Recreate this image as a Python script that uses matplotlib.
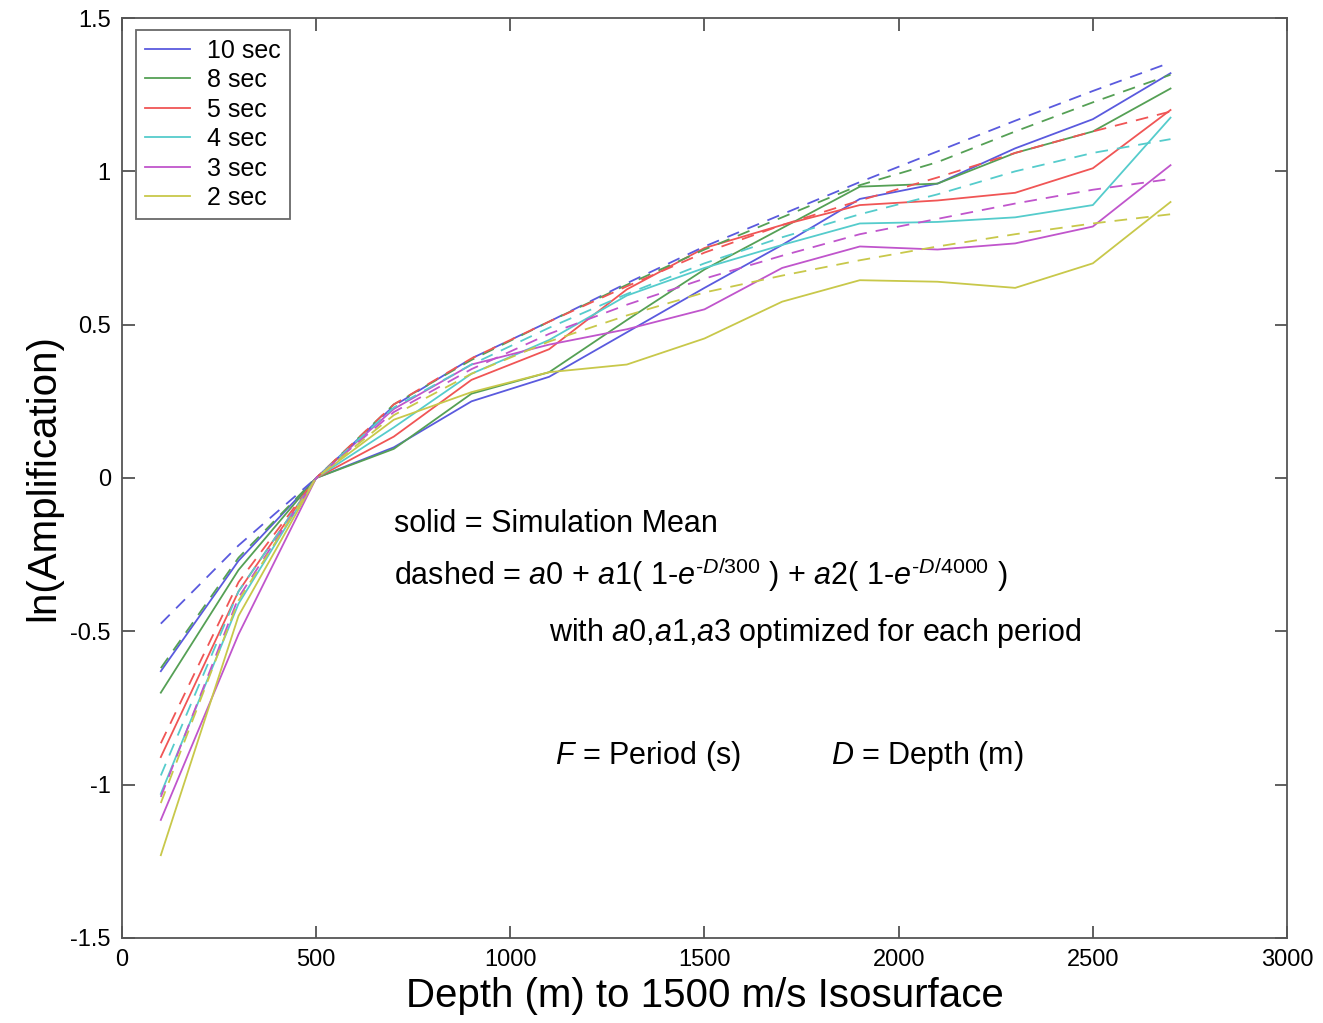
import numpy as np
import matplotlib
matplotlib.use("Agg")
import matplotlib.pyplot as plt

plt.rcParams['font.family'] = ['Liberation Sans', 'DejaVu Sans']
plt.rcParams['mathtext.fontset'] = 'custom'
plt.rcParams['mathtext.rm'] = 'Liberation Sans'
plt.rcParams['mathtext.it'] = 'Liberation Sans:italic'

# depth (m) to the 1500 m/s isosurface
depth = [100, 300, 500, 700, 900, 1100, 1300, 1500, 1700, 1900, 2100, 2300, 2500, 2700]

periods = ['10 sec', '8 sec', '5 sec', '4 sec', '3 sec', '2 sec']
colors = ['#5a5ade', '#55a055', '#f05555', '#55cccc', '#c055cc', '#c8c84a']

# solid = simulation mean
sim_10 = [-0.63, -0.27, 0, 0.10, 0.25, 0.33, 0.475, 0.62, 0.76, 0.91, 0.96, 1.075, 1.17, 1.32]
sim_8 = [-0.70, -0.30, 0, 0.095, 0.275, 0.345, 0.515, 0.68, 0.815, 0.95, 0.96, 1.06, 1.13, 1.27]
sim_5 = [-0.91, -0.37, 0, 0.135, 0.32, 0.42, 0.615, 0.75, 0.825, 0.89, 0.905, 0.93, 1.01, 1.20]
sim_4 = [-1.03, -0.41, 0, 0.165, 0.34, 0.45, 0.595, 0.685, 0.76, 0.83, 0.835, 0.85, 0.89, 1.175]
sim_3 = [-1.115, -0.51, 0, 0.225, 0.37, 0.435, 0.485, 0.55, 0.685, 0.755, 0.745, 0.765, 0.82, 1.02]
sim_2 = [-1.23, -0.45, 0, 0.19, 0.28, 0.345, 0.37, 0.455, 0.575, 0.645, 0.64, 0.62, 0.70, 0.90]

# dashed = fitted curves
fit_10 = [-0.475, -0.22, 0, 0.235, 0.39, 0.51, 0.635, 0.755, 0.86, 0.965, 1.065, 1.165, 1.262, 1.355]
fit_8 = [-0.62, -0.26, 0, 0.24, 0.385, 0.51, 0.63, 0.745, 0.85, 0.955, 1.03, 1.13, 1.225, 1.315]
fit_5 = [-0.865, -0.34, 0, 0.24, 0.39, 0.51, 0.625, 0.735, 0.825, 0.905, 0.98, 1.06, 1.13, 1.195]
fit_4 = [-0.97, -0.37, 0, 0.23, 0.37, 0.49, 0.60, 0.70, 0.785, 0.86, 0.925, 1.0, 1.06, 1.105]
fit_3 = [-1.04, -0.39, 0, 0.215, 0.355, 0.47, 0.565, 0.65, 0.725, 0.795, 0.845, 0.895, 0.94, 0.975]
fit_2 = [-1.06, -0.40, 0, 0.205, 0.34, 0.445, 0.53, 0.605, 0.66, 0.71, 0.755, 0.795, 0.83, 0.86]

sims = [sim_10, sim_8, sim_5, sim_4, sim_3, sim_2]
fits = [fit_10, fit_8, fit_5, fit_4, fit_3, fit_2]

xticks = [0, 500, 1000, 1500, 2000, 2500, 3000]
yticks = [-1.5, -1, -0.5, 0, 0.5, 1, 1.5]
ytick_labels = ['-1.5', '-1', '-0.5', '0', '0.5', '1', '1.5']

fig = plt.figure(figsize=(13.23, 10.23), dpi=100)
ax = fig.add_axes([0.0922, 0.0831, 0.8806, 0.8993])

for s, c, lab in zip(sims, colors, periods):
    ax.plot(depth, s, color=c, lw=1.3, label=lab)
for f, c in zip(fits, colors):
    ax.plot(depth, f, color=c, lw=1.3, dashes=(7, 5))

ax.set_xlim(0, 3000)
ax.set_ylim(-1.5, 1.5)
ax.set_xticks(xticks)
ax.set_xticklabels([str(t) for t in xticks])
ax.set_yticks(yticks)
ax.set_yticklabels(ytick_labels)
ax.tick_params(direction='in', length=9, width=1.2, labelsize=17, top=True, right=True,
               color='#444444', pad=8)
for sp in ax.spines.values():
    sp.set_color('#555555')
    sp.set_linewidth(1.3)

ax.set_xlabel('Depth (m) to 1500 m/s Isosurface', fontsize=29, labelpad=4)
ax.set_ylabel('ln(Amplification)', fontsize=29, labelpad=6)

leg = ax.legend(loc='upper left', fontsize=18, frameon=True, fancybox=False,
                handlelength=1.8, handletextpad=0.7, labelspacing=0.22,
                borderpad=0.35, borderaxespad=0, bbox_to_anchor=(0.012, 0.987))
leg.get_frame().set_edgecolor('#444444')
leg.get_frame().set_linewidth(1.3)

ax.text(700, -0.15, 'solid = Simulation Mean', fontsize=22, va='center')
ax.text(700, -0.315,
        r'dashed = $\mathit{a0}$ + $\mathit{a1}$( 1-$\mathit{e}^{\text{-}\mathit{D/300}}$ ) + '
        r'$\mathit{a2}$( 1-$\mathit{e}^{\text{-}\mathit{D/4000}}$ )',
        fontsize=22, va='center')
ax.text(1100, -0.505, r'with $\mathit{a0{,}a1{,}a3}$ optimized for each period', fontsize=22, va='center')
ax.text(1115, -0.905, r'$\mathit{F}$ = Period (s)', fontsize=22, va='center')
ax.text(1825, -0.905, r'$\mathit{D}$ = Depth (m)', fontsize=22, va='center')

fig.savefig('out.png', dpi=100)
